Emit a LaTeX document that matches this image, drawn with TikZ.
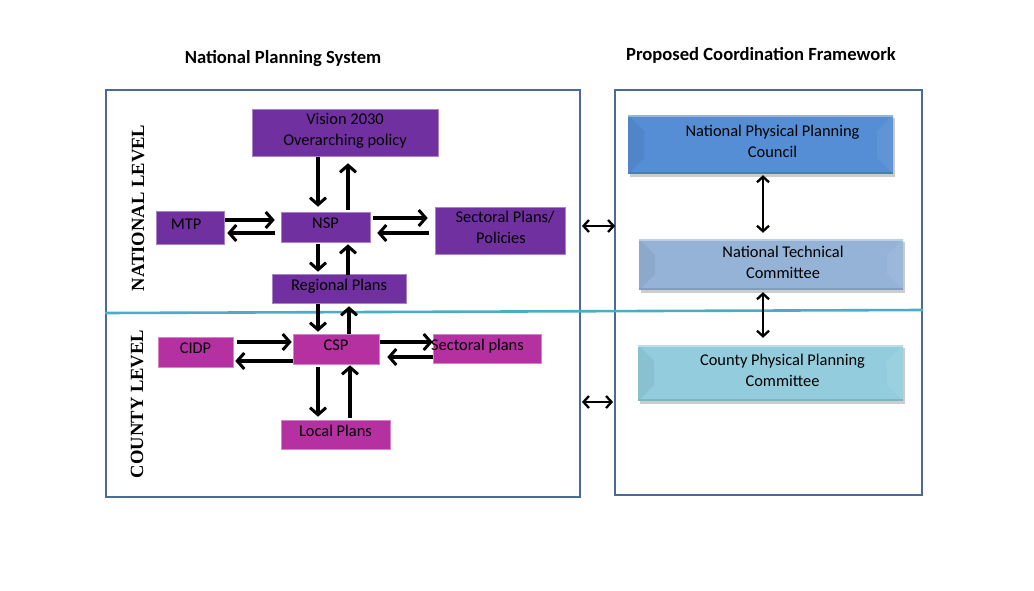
\documentclass[tikz,border=0pt]{standalone}
\usepackage{fontspec}
\setmainfont{Carlito}
\newfontfamily\timesb{Liberation Serif}
\usetikzlibrary{arrows.meta,calc}
\definecolor{natp}{HTML}{7030A0}
\definecolor{cntp}{HTML}{B530A0}
\definecolor{framec}{HTML}{4A6A9A}
\definecolor{cyanl}{HTML}{4BACC6}
\definecolor{bA}{HTML}{558ED5}
\definecolor{bB}{HTML}{95B3D7}
\definecolor{bC}{HTML}{93CDDD}
\newcommand{\shr}[1]{\hspace*{24pt}#1}
\begin{document}
\begin{tikzpicture}[x=1pt,y=-1pt,
  boxfont/.style={font=\fontsize{16.4}{21}\selectfont},
  natbox/.style={boxfont,fill=natp,draw=natp!60!white,line width=0.6pt,inner sep=0pt,align=center,text depth=7pt},
  cntbox/.style={boxfont,fill=cntp,draw=cntp!60!white,line width=0.6pt,inner sep=0pt,align=center,text depth=7pt},
  bevbox/.style={boxfont,inner sep=0pt,align=center},
  framebox/.style={draw=framec,line width=1.8pt,inner sep=0pt},
  arr/.style={line width=3.2pt,-{Straight Barb[length=7pt,width=16pt,line width=3pt]}},
  darr/.style={line width=2.5pt,{Straight Barb[length=5.5pt,width=12pt,line width=2.3pt]}-{Straight Barb[length=5.5pt,width=12pt,line width=2.3pt]}},
  title/.style={font=\fontsize{18.6}{20}\selectfont\bfseries}
]
\useasboundingbox (0,0) rectangle (1034,591);

% titles
\node[title] (t1) at (283,59) {National Planning System};
\node[title] (t2) at (761,55) {Proposed Coordination Framework};

% frames
\node[framebox,minimum width=474pt,minimum height=407pt] (lframe) at (343,293.5) {};
\node[framebox,minimum width=307pt,minimum height=405pt] (rframe) at (768.5,292.5) {};

% level labels
\node[rotate=90,font=\timesb\fontsize{18.6}{20}\selectfont\bfseries] (natlev) at (138,208) {NATIONAL LEVEL};
\node[rotate=90,font=\timesb\fontsize{18.6}{20}\selectfont\bfseries] (cntlev) at (137,404) {COUNTY LEVEL};

% separator line
\draw[cyanl,line width=2.6pt] ($(lframe.west)+(0,19.5)$) -- ($(rframe.east)+(0,17.5)$);

% national level boxes
\node[natbox,minimum width=186pt,minimum height=47pt] (vision) at (345,132.5) {Vision 2030\\Overarching policy};
\node[natbox,minimum width=89pt,minimum height=30pt] (nsp) at (325.5,227) {NSP};
\node[natbox,minimum width=68pt,minimum height=33pt] (mtp) at (190,227.5) {\hspace*{-8pt}MTP};
\node[natbox,minimum width=130pt,minimum height=47pt] (secp) at (500,230.5) {\hspace*{10pt}Sectoral Plans/\\\hspace*{2pt}Policies};
\node[natbox,minimum width=134pt,minimum height=29pt] (reg) at (339,288.5) {Regional Plans};

% county level boxes
\node[cntbox,minimum width=75pt,minimum height=30pt] (cidp) at (195.5,352) {CIDP};
\node[cntbox,minimum width=86pt,minimum height=30pt] (csp) at (336,349) {CSP};
\node[cntbox,minimum width=108pt,minimum height=29pt] (secl) at (487,348.5) {\hspace*{-19pt}Sectoral plans};
\node[cntbox,minimum width=109pt,minimum height=29pt] (local) at (335.5,434.5) {Local Plans};

% framework boxes with bevel
\foreach \nm/\cx/\cy/\w/\h/\col in {nppc/760.5/144.5/265/59/bA, ntc/771/264.5/264/51/bB, cppc/770.5/373/265/56/bC}{
  \fill[black!20] (\cx-\w/2+2,\cy-\h/2+3) rectangle (\cx+\w/2+2,\cy+\h/2+3);
  \fill[\col] (\cx-\w/2,\cy-\h/2) rectangle (\cx+\w/2,\cy+\h/2);
  \fill[\col!94!black] (\cx-\w/2,\cy-\h/2) -- (\cx-\w/2+16,\cy-\h/2+16) -- (\cx-\w/2+16,\cy+\h/2-16) -- (\cx-\w/2,\cy+\h/2) -- cycle;
  \fill[\col!94!white] (\cx+\w/2,\cy-\h/2) -- (\cx+\w/2-16,\cy-\h/2+16) -- (\cx+\w/2-16,\cy+\h/2-16) -- (\cx+\w/2,\cy+\h/2) -- cycle;
  \fill[\col!65!white] (\cx-\w/2,\cy-\h/2) rectangle (\cx+\w/2,\cy-\h/2+2);
  \fill[\col!88!black] (\cx-\w/2,\cy+\h/2-2) rectangle (\cx+\w/2,\cy+\h/2);
}
\node[bevbox,minimum width=265pt,minimum height=59pt] (nppc) at (760.5,141) {\shr{National Physical Planning}\\\shr{Council}};
\node[bevbox,minimum width=264pt,minimum height=51pt] (ntc) at (771,262.5) {\shr{National Technical}\\\shr{Committee}};
\node[bevbox,minimum width=265pt,minimum height=56pt] (cppc) at (770.5,370.5) {\shr{County Physical Planning}\\\shr{Committee}};

% arrows national
\draw[arr] ($(vision.south)+(-27,1)$) -- ($(nsp.north)+(-7.5,-5)$);
\draw[arr] ($(nsp.north)+(22.5,-2)$) -- ($(vision.south)+(3,7)$);
\draw[arr] ($(mtp.east)+(1,-7.5)$) -- ($(nsp.west)+(-6,-7)$);
\draw[arr] ($(nsp.west)+(-6,6)$) -- ($(mtp.east)+(3,5.5)$);
\draw[arr] ($(nsp.east)+(3,-9)$) -- ($(secp.west)+(-7,-12.5)$);
\draw[arr] ($(secp.west)+(-6,2.5)$) -- ($(nsp.east)+(7,6)$);
\draw[arr] ($(nsp.south)+(-7.5,2)$) -- ($(reg.north)+(-21,-2)$);
\draw[arr] ($(reg.north)+(9,1)$) -- ($(nsp.south)+(22.5,2)$);
% arrows county
\draw[arr] ($(reg.south)+(-21,1)$) -- ($(csp.north)+(-18,-2)$);
\draw[arr] ($(csp.north)+(13,0)$) -- ($(reg.south)+(10,3)$);
\draw[arr] ($(cidp.east)+(4,-10)$) -- ($(csp.west)+(-1,-7)$);
\draw[arr] ($(csp.west)+(0,12)$) -- ($(cidp.east)+(2,9)$);
\draw[arr] ($(csp.east)+(1,-7)$) -- ($(secl.west)+(0,-6.5)$);
\draw[arr] ($(secl.west)+(0,8.5)$) -- ($(csp.east)+(8,8)$);
\draw[arr] ($(csp.south)+(-18,3)$) -- ($(local.north)+(-17.5,-3)$);
\draw[arr] ($(local.north)+(14.5,-2)$) -- ($(csp.south)+(14,1)$);

% framework arrows
\draw[darr] ($(lframe.east)+(1,-67.5)$) -- ($(rframe.west)+(1,-66.5)$);
\draw[darr] ($(lframe.east)+(1,108.5)$) -- ($(rframe.west)+(-1,109.5)$);
\draw[darr] ($(nppc.south)+(2.5,4.5)$) -- ($(ntc.north)+(-8,-4)$);
\draw[darr] ($(ntc.south)+(-8,4)$) -- ($(cppc.north)+(-7.5,-4.5)$);
\end{tikzpicture}
\end{document}
